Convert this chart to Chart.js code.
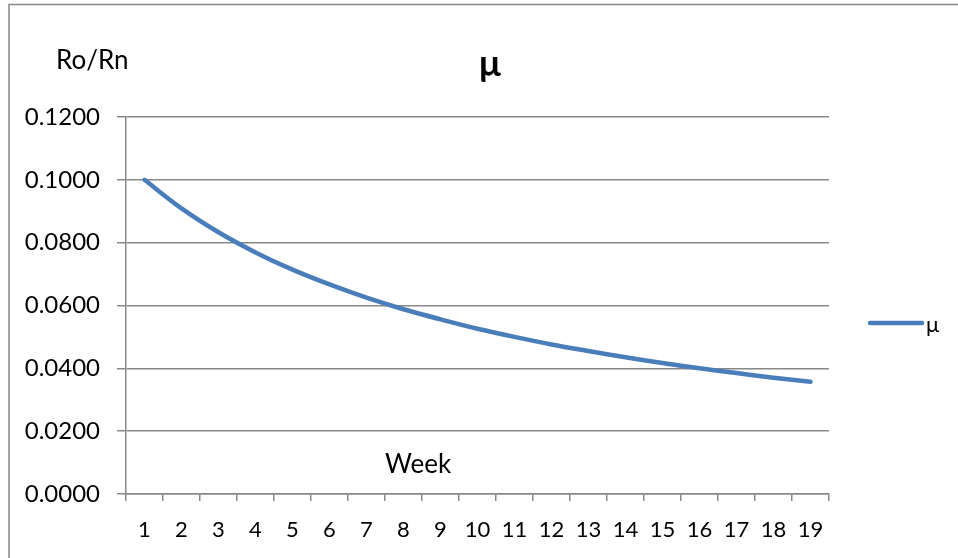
<!DOCTYPE html>
<html>
<head>
<meta charset="utf-8">
<script src="https://cdn.jsdelivr.net/npm/chart.js@4"></script>
<style>
html,body{margin:0;padding:0;background:#fff;}
#wrap{position:relative;width:958px;height:558px;}
</style>
</head>
<body>
<div id="wrap"><canvas id="c" width="958" height="558"></canvas></div>
<script>
const weeks = ['1','2','3','4','5','6','7','8','9','10','11','12','13','14','15','16','17','18','19'];
const muValues = [0.1000,0.0909,0.0833,0.0769,0.0714,0.0667,0.0625,0.0588,0.0556,0.0526,0.0500,0.0476,0.0455,0.0435,0.0417,0.0400,0.0385,0.0370,0.0357];
const seriesName = 'μ';
const chartTitle = 'μ';
const yTitle = 'Ro/Rn';
const xTitle = 'Week';

const FONT = 'Lato, "Open Sans", sans-serif';
const GRID = '#888888';
const LINE = '#4A7EBB';

const decor = {
  id: 'decor',
  beforeDraw(chart) {
    const ctx = chart.ctx;
    ctx.save();
    ctx.strokeStyle = GRID;
    ctx.lineWidth = 1.5;
    ctx.beginPath();
    ctx.moveTo(9, 560);
    ctx.lineTo(9, 4.5);
    ctx.lineTo(960, 4.5);
    ctx.stroke();
    ctx.restore();
  },
  afterDraw(chart) {
    const ctx = chart.ctx;
    ctx.save();
    ctx.fillStyle = '#000';
    ctx.textBaseline = 'middle';
    // title
    ctx.font = 'bold 36px ' + FONT;
    ctx.textAlign = 'center';
    ctx.fillText(chartTitle, 490, 64);
    // y title
    ctx.font = '26px ' + FONT;
    ctx.textAlign = 'left';
    ctx.fillText(yTitle, 56, 61);
    // x title
    ctx.fillText(xTitle, 385, 465);
    // legend
    ctx.strokeStyle = LINE;
    ctx.lineWidth = 4.5;
    ctx.lineCap = 'round';
    ctx.beginPath();
    ctx.moveTo(870, 323);
    ctx.lineTo(922, 323);
    ctx.stroke();
    ctx.font = '22px ' + FONT;
    ctx.fillText(seriesName, 926, 325);
    ctx.restore();
  }
};

new Chart(document.getElementById('c'), {
  type: 'line',
  data: {
    labels: weeks,
    datasets: [{
      label: seriesName,
      data: muValues,
      borderColor: LINE,
      backgroundColor: LINE,
      borderWidth: 4.5,
      pointRadius: 0,
      tension: 0.3,
      borderCapStyle: 'round'
    }]
  },
  options: {
    responsive: false,
    animation: false,
    layout: { padding: { left: 0, top: 117, right: 129, bottom: 0 } },
    plugins: { legend: { display: false }, title: { display: false }, tooltip: { enabled: false } },
    scales: {
      x: {
        offset: true,
        grid: { offset: true, drawOnChartArea: false, drawTicks: true, tickLength: 7, color: GRID, lineWidth: 1.5 },
        border: { color: GRID, width: 1.5 },
        ticks: { color: '#000', font: { family: FONT, size: 22 }, padding: 16, maxRotation: 0, autoSkip: false },
        afterFit(s) { s.height = 64; }
      },
      y: {
        min: 0, max: 0.12,
        grid: { color: GRID, lineWidth: 1.5, tickLength: 9 },
        border: { color: GRID, width: 1.5 },
        ticks: { stepSize: 0.02, color: '#000', font: { family: FONT, size: 24 }, padding: 17, callback: v => Number(v).toFixed(4) },
        afterFit(s) { s.width = 126; }
      }
    }
  },
  plugins: [decor]
});
</script>
</body>
</html>
